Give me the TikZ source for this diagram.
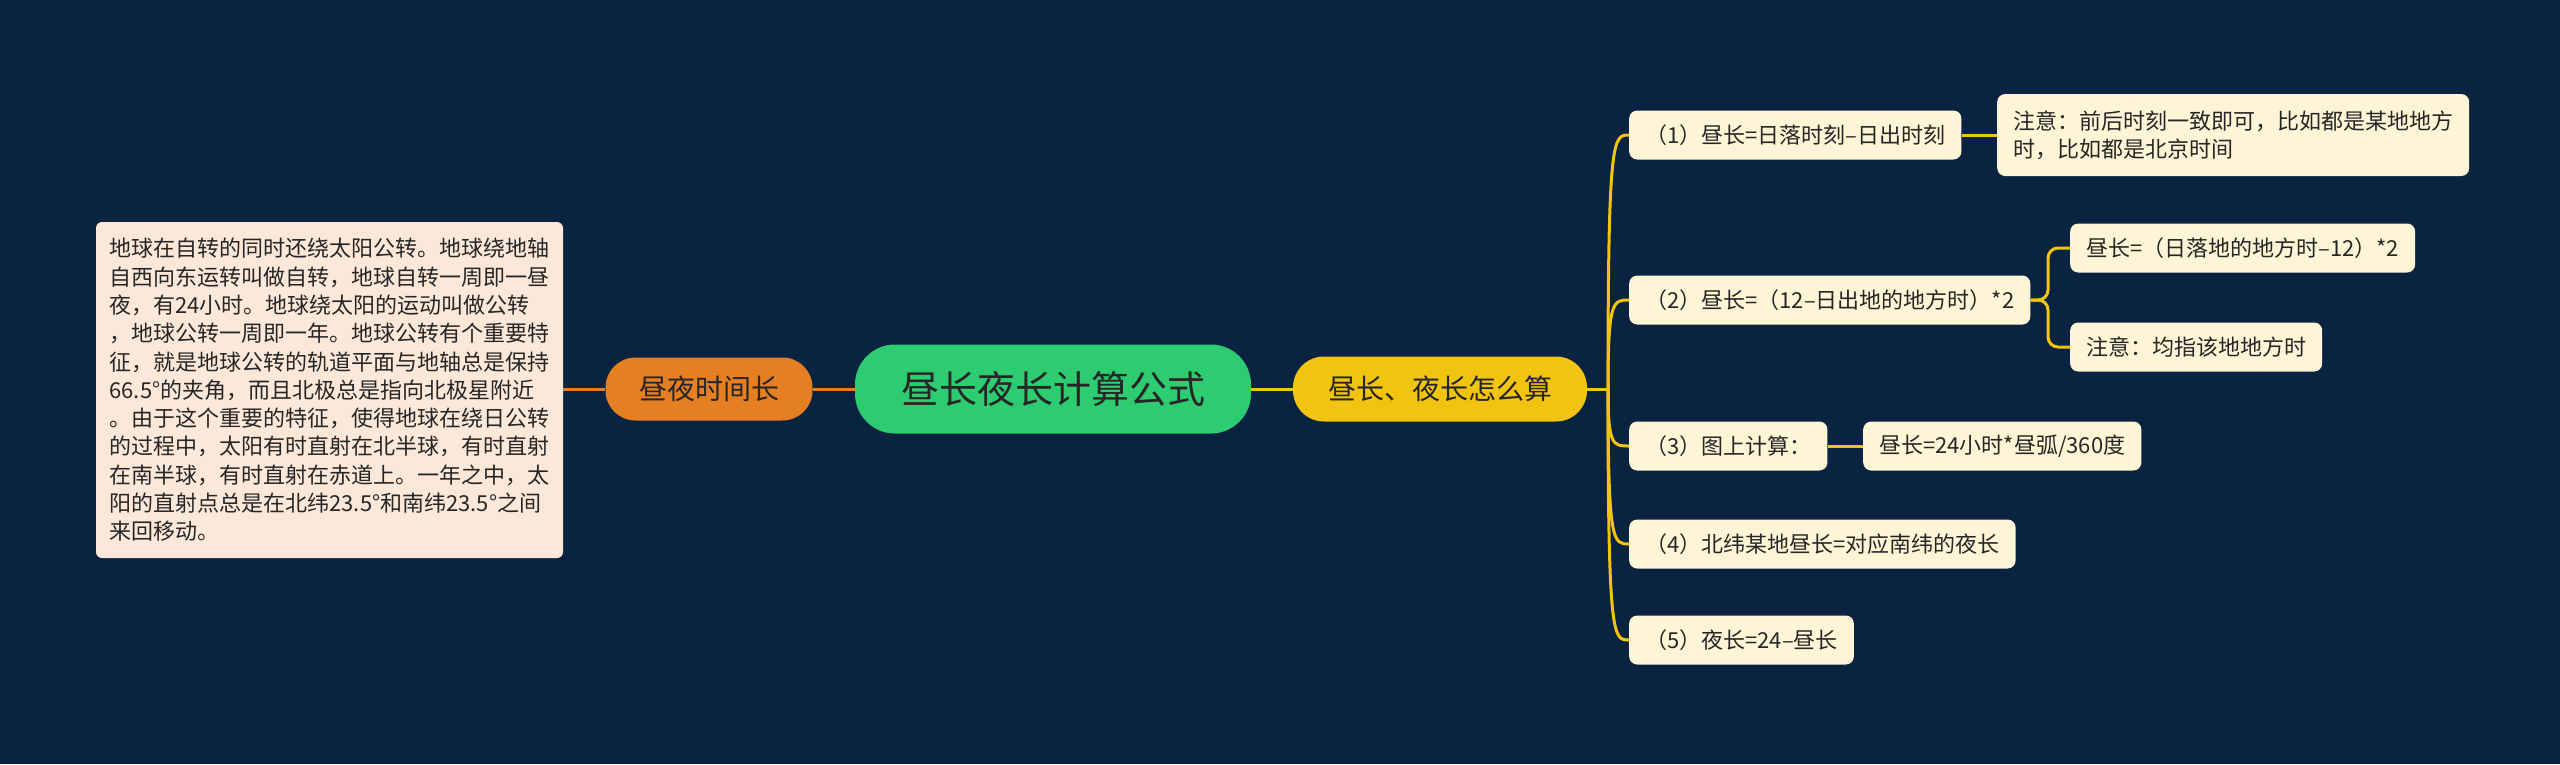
\documentclass[tikz,border=0pt]{standalone}
\usepackage{fontspec}
\setmainfont{Noto Sans CJK SC}
\definecolor{bg}{HTML}{0A2341}
\definecolor{leafc}{HTML}{FDF5D6}
\definecolor{peach}{HTML}{FCE8D9}
\definecolor{orangec}{HTML}{E67E22}
\definecolor{greenc}{HTML}{2ECC71}
\definecolor{yellowc}{HTML}{F1C40F}
\definecolor{txt}{HTML}{262626}
\begin{document}
\begin{tikzpicture}[x=1pt,y=-1pt,
  leaf/.style={fill=leafc, rounded corners=8pt, text=txt, font=\fontsize{22}{28}\selectfont, inner xsep=16pt, inner ysep=0pt, minimum height=49pt, anchor=west, align=left},
  yline/.style={draw=yellowc, line width=3pt},
  oline/.style={draw=orangec, line width=3pt},
  mainnode/.style={text=txt, inner sep=0pt, align=center}
]
\useasboundingbox (0,0) rectangle (2560,764);
\fill[bg] (0,0) rectangle (2560,764);

% left text box
\node[fill=peach, rounded corners=6pt, text=txt, font=\fontsize{22}{28.3}\selectfont, align=left, inner sep=0pt, minimum width=467pt, minimum height=336pt] (tb) at (329.5,390) {地球在自转的同时还绕太阳公转。地球绕地轴\\自西向东运转叫做自转，地球自转一周即一昼\\夜，有24小时。地球绕太阳的运动叫做公转\\，地球公转一周即一年。地球公转有个重要特\\征，就是地球公转的轨道平面与地轴总是保持\\66.5°的夹角，而且北极总是指向北极星附近\\。由于这个重要的特征，使得地球在绕日公转\\的过程中，太阳有时直射在北半球，有时直射\\在南半球，有时直射在赤道上。一年之中，太\\阳的直射点总是在北纬23.5°和南纬23.5°之间\\来回移动。};

% main nodes
\node[mainnode, fill=orangec, rounded corners=30pt, minimum width=207pt, minimum height=63pt, font=\fontsize{28}{32}\selectfont] (orn) at (709,389) {昼夜时间长};
\node[mainnode, fill=greenc, rounded corners=40pt, minimum width=396pt, minimum height=89pt, font=\fontsize{38}{42}\selectfont] (root) at (1053,389) {昼长夜长计算公式};
\node[mainnode, fill=yellowc, rounded corners=31pt, minimum width=294pt, minimum height=65pt, font=\fontsize{28}{32}\selectfont] (yel) at (1440,389) {昼长、夜长怎么算};

% leaves
\node[leaf] (c1) at (1629,135) {（1）昼长=日落时刻–日出时刻};
\node[leaf, minimum height=82pt] (n1) at (1997,135) {注意：前后时刻一致即可，比如都是某地地方\\时，比如都是北京时间};
\node[leaf] (c2) at (1629,300) {（2）昼长=（12–日出地的地方时）*2};
\node[leaf] (s2a) at (2070,248) {昼长=（日落地的地方时–12）*2};
\node[leaf] (s2b) at (2070,347) {注意：均指该地地方时};
\node[leaf] (c3) at (1629,446) {（3）图上计算：};
\node[leaf] (s3) at (1863,446) {昼长=24小时*昼弧/360度};
\node[leaf] (c4) at (1629,544) {（4）北纬某地昼长=对应南纬的夜长};
\node[leaf] (c5) at (1629,640) {（5）夜长=24–昼长};

% connectors
\draw[oline] (tb.east |- orn.west) -- (orn.west);
\draw[oline] (orn.east) -- (root.west);
\draw[yline] (root.east) -- (yel.west);
\coordinate (J) at (1608,389);
\draw[yline] (yel.east) -- (J);
\foreach \c in {c1,c2,c3,c4,c5}{
  \draw[yline] (J) .. controls (J |- \c.west) and ([xshift=-16pt]\c.west) .. (\c.west);
}
\draw[yline] (c1.east) -- (n1.west);
\coordinate (K) at (2048,300);
\draw[yline, rounded corners=10pt] (c2.east) -- (K) |- (s2a.west);
\draw[yline, rounded corners=10pt] (c2.east) -- (K) |- (s2b.west);
\draw[yline] (c3.east) -- (s3.west);
\end{tikzpicture}
\end{document}
